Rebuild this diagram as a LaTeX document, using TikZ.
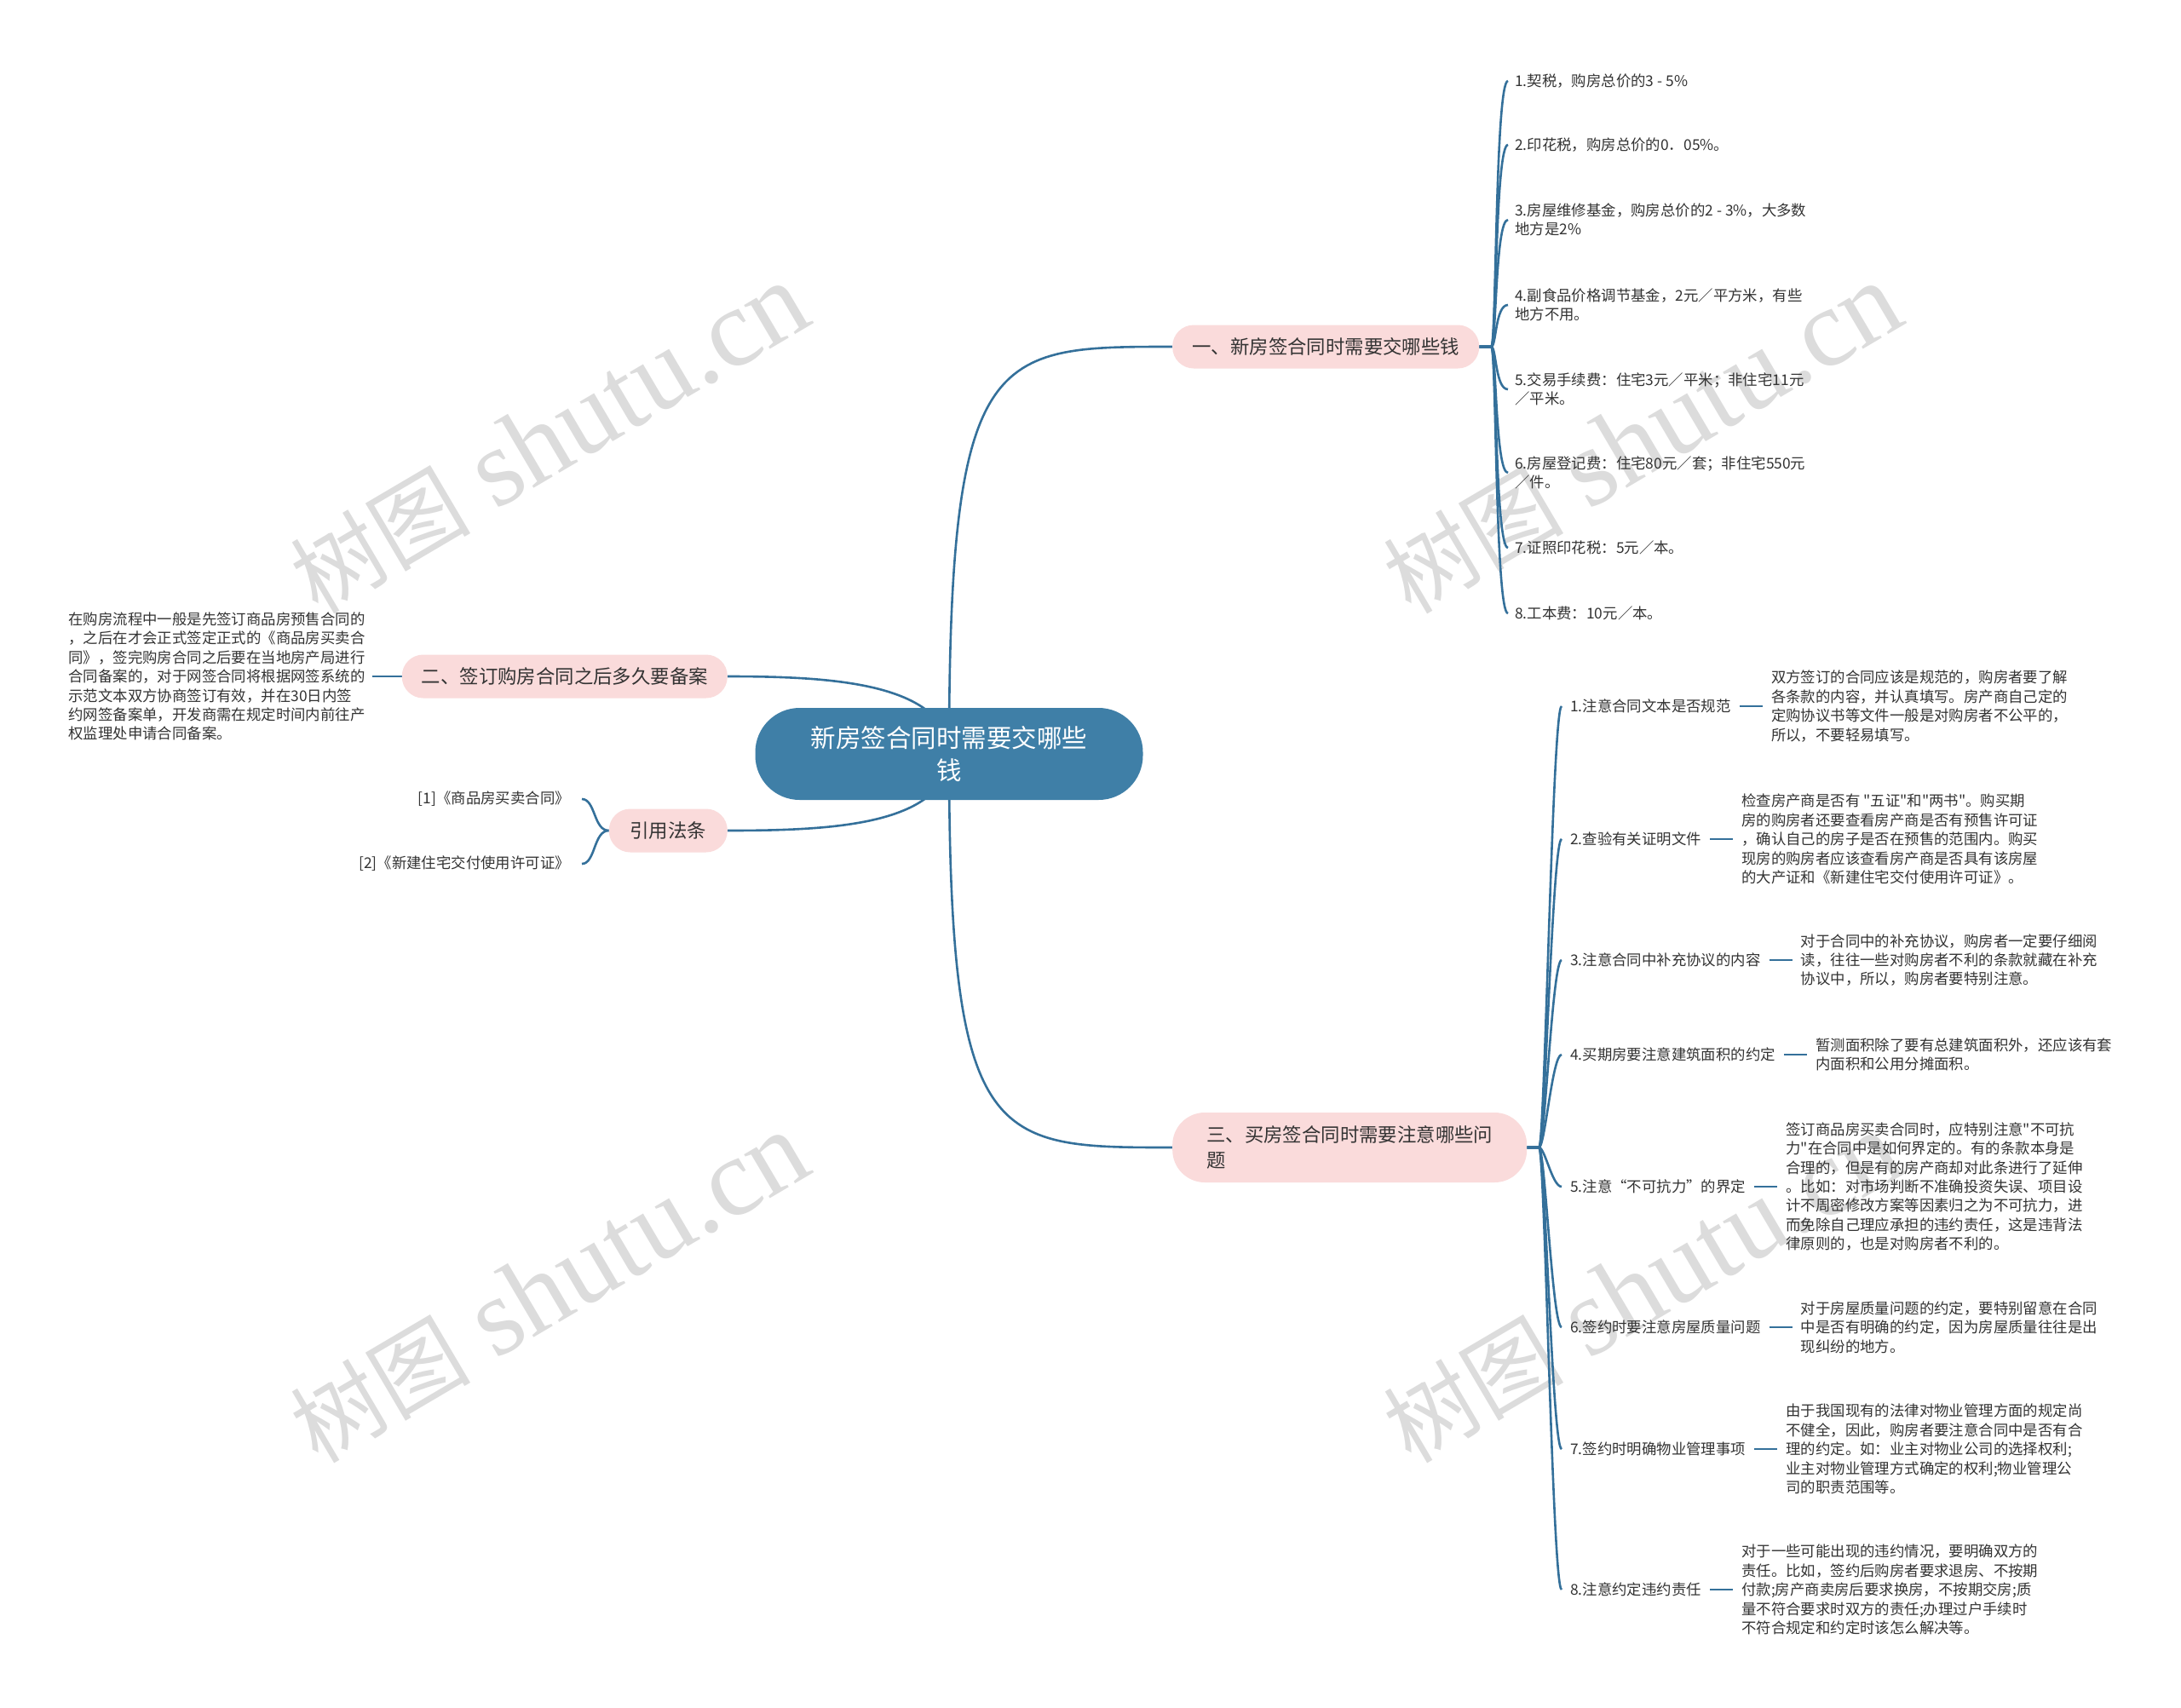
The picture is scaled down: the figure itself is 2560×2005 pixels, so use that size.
\documentclass[tikz,border=0pt]{standalone}
\usepackage{fontspec}
\setmainfont{Noto Sans CJK SC}[Ligatures=TeXOff]
\newfontfamily\wmserif{Liberation Serif}
\usetikzlibrary{positioning,backgrounds,calc}
\definecolor{linec}{HTML}{34709A}
\definecolor{rootc}{HTML}{3F7FA7}
\definecolor{pinkc}{HTML}{FADBDB}
\definecolor{txtc}{HTML}{333333}
\definecolor{wmc}{HTML}{DCDCDC}
\begin{document}
\begin{tikzpicture}[x=1pt,y=-1pt,
  conn/.style={draw=linec,line width=2.6pt},
  rootbox/.style={fill=rootc,text=white,rounded corners=52pt,minimum width=455pt,minimum height=108pt,align=center,inner sep=4pt,font=\fontsize{29.5}{37.6}\selectfont},
  mainbox/.style={fill=pinkc,text=txtc,font=\fontsize{22.4}{29.4}\selectfont,inner ysep=4pt,rounded corners=25pt,minimum height=51pt},
  leaf/.style={text=txtc,font=\fontsize{17.4}{22.4}\selectfont,align=left,inner sep=0pt},
  wm/.style={text=wmc,rotate=30.5,inner sep=0pt,font=\fontsize{130}{135}\selectfont}
]
\useasboundingbox (0,0) rectangle (2560,2005);
\begin{pgfonlayer}{background}
\fill[white] (0,0) rectangle (2560,2005);
\node[wm] (w1) at (645,515) {{\fontsize{106}{106}\selectfont 树图} {\wmserif shutu.cn}};
\node[wm] (w2) at (1928,515) {{\fontsize{106}{106}\selectfont 树图} {\wmserif shutu.cn}};
\node[wm] (w3) at (645,1512) {{\fontsize{106}{106}\selectfont 树图} {\wmserif shutu.cn}};
\node[wm] (w4) at (1928,1512) {{\fontsize{106}{106}\selectfont 树图} {\wmserif shutu.cn}};
\end{pgfonlayer}

% root and main branches
\node[rootbox] (r) at (1114,885) {新房签合同时需要交哪些\\钱};
\node[mainbox,anchor=west,minimum width=360pt] (b1) at (1376,407) {一、新房签合同时需要交哪些钱};
\node[mainbox,anchor=west,align=left,inner xsep=40pt,minimum height=82pt,rounded corners=38pt] (b3) at (1376,1347) {三、买房签合同时需要注意哪些问\\题};
\node[mainbox,anchor=east,minimum width=382pt] (b2) at (854,794) {二、签订购房合同之后多久要备案};
\node[mainbox,anchor=east,minimum width=139pt] (b4) at (854,975) {引用法条};

% branch 2 text
\node[leaf,left=43pt of b2] (t2) {在购房流程中一般是先签订商品房预售合同的\\，之后在才会正式签定正式的《商品房买卖合\\同》，签完购房合同之后要在当地房产局进行\\合同备案的，对于网签合同将根据网签系统的\\示范文本双方协商签订有效，并在30日内签\\约网签备案单，开发商需在规定时间内前往产\\权监理处申请合同备案。};

% citations
\node[leaf,anchor=east] (c1) at (669,938) {[1]《商品房买卖合同》};
\node[leaf,anchor=east] (c2) at (669,1014) {[2]《新建住宅交付使用许可证》};

% branch 1 items
\node[leaf,anchor=west] (a1) at (1778,95) {1.契税，购房总价的3 - 5\%};
\node[leaf,anchor=west] (a2) at (1778,170) {2.印花税，购房总价的0．05\%。};
\node[leaf,anchor=west] (a3) at (1778,258) {3.房屋维修基金，购房总价的2 - 3\%，大多数\\地方是2\%};
\node[leaf,anchor=west] (a4) at (1778,358) {4.副食品价格调节基金，2元／平方米，有些\\地方不用。};
\node[leaf,anchor=west] (a5) at (1778,457) {5.交易手续费：住宅3元／平米；非住宅11元\\／平米。};
\node[leaf,anchor=west] (a6) at (1778,555) {6.房屋登记费：住宅80元／套；非住宅550元\\／件。};
\node[leaf,anchor=west] (a7) at (1778,643) {7.证照印花税：5元／本。};
\node[leaf,anchor=west] (a8) at (1778,720) {8.工本费：10元／本。};

% branch 3 labels
\node[leaf,anchor=west] (l1) at (1843,829) {1.注意合同文本是否规范};
\node[leaf,anchor=west] (l2) at (1843,985) {2.查验有关证明文件};
\node[leaf,anchor=west] (l3) at (1843,1127) {3.注意合同中补充协议的内容};
\node[leaf,anchor=west] (l4) at (1843,1238) {4.买期房要注意建筑面积的约定};
\node[leaf,anchor=west] (l5) at (1843,1393) {5.注意“不可抗力”的界定};
\node[leaf,anchor=west] (l6) at (1843,1558) {6.签约时要注意房屋质量问题};
\node[leaf,anchor=west] (l7) at (1843,1701) {7.签约时明确物业管理事项};
\node[leaf,anchor=west] (l8) at (1843,1866) {8.注意约定违约责任};

% branch 3 descriptions
\node[leaf,right=47pt of l1] (d1) {双方签订的合同应该是规范的，购房者要了解\\各条款的内容，并认真填写。房产商自己定的\\定购协议书等文件一般是对购房者不公平的，\\所以，不要轻易填写。};
\node[leaf,right=47pt of l2] (d2) {检查房产商是否有 "五证"和"两书"。购买期\\房的购房者还要查看房产商是否有预售许可证\\，确认自己的房子是否在预售的范围内。购买\\现房的购房者应该查看房产商是否具有该房屋\\的大产证和《新建住宅交付使用许可证》。};
\node[leaf,right=47pt of l3] (d3) {对于合同中的补充协议，购房者一定要仔细阅\\读，往往一些对购房者不利的条款就藏在补充\\协议中，所以，购房者要特别注意。};
\node[leaf,right=47pt of l4] (d4) {暂测面积除了要有总建筑面积外，还应该有套\\内面积和公用分摊面积。};
\node[leaf,right=47pt of l5] (d5) {签订商品房买卖合同时，应特别注意"不可抗\\力"在合同中是如何界定的。有的条款本身是\\合理的，但是有的房产商却对此条进行了延伸\\。比如：对市场判断不准确投资失误、项目设\\计不周密修改方案等因素归之为不可抗力，进\\而免除自己理应承担的违约责任，这是违背法\\律原则的，也是对购房者不利的。};
\node[leaf,right=47pt of l6] (d6) {对于房屋质量问题的约定，要特别留意在合同\\中是否有明确的约定，因为房屋质量往往是出\\现纠纷的地方。};
\node[leaf,right=47pt of l7] (d7) {由于我国现有的法律对物业管理方面的规定尚\\不健全，因此，购房者要注意合同中是否有合\\理的约定。如：业主对物业公司的选择权利;\\业主对物业管理方式确定的权利;物业管理公\\司的职责范围等。};
\node[leaf,right=47pt of l8] (d8) {对于一些可能出现的违约情况，要明确双方的\\责任。比如，签约后购房者要求退房、不按期\\付款;房产商卖房后要求换房，不按期交房;质\\量不符合要求时双方的责任;办理过户手续时\\不符合规定和约定时该怎么解决等。};

% connectors
\begin{pgfonlayer}{background}
\draw[conn] (r.center) .. controls (1114,407) and (1165,407) .. (b1.west);
\draw[conn] (r.center) .. controls (1114,1347) and (1165,1347) .. (b3.west);
\draw[conn] ([shift={(-14,-40)}]r.center) .. controls (1060,800) and (960,794) .. (b2.east);
\draw[conn] ([shift={(-14,40)}]r.center) .. controls (1060,970) and (960,975) .. (b4.east);
\foreach \i in {1,...,8}{
  \draw[conn] (b1.east) -- +(14,0) .. controls +(6,0) and +(-15,0) .. ([xshift=-8pt]a\i.west);
  \draw[conn] (b3.east) -- +(14,0) .. controls +(7,0) and +(-11,0) .. ([xshift=-10pt]l\i.west);
  \draw[conn] ([xshift=10pt]l\i.east) -- ([xshift=-10pt]d\i.west);
}
\draw[conn] (b4.west) .. controls +(-18,0) and +(16,0) .. ([xshift=14pt]c1.east);
\draw[conn] (b4.west) .. controls +(-18,0) and +(16,0) .. ([xshift=14pt]c2.east);
\draw[conn] ([xshift=8pt]t2.east) -- (b2.west);
\end{pgfonlayer}
\end{tikzpicture}
\end{document}
